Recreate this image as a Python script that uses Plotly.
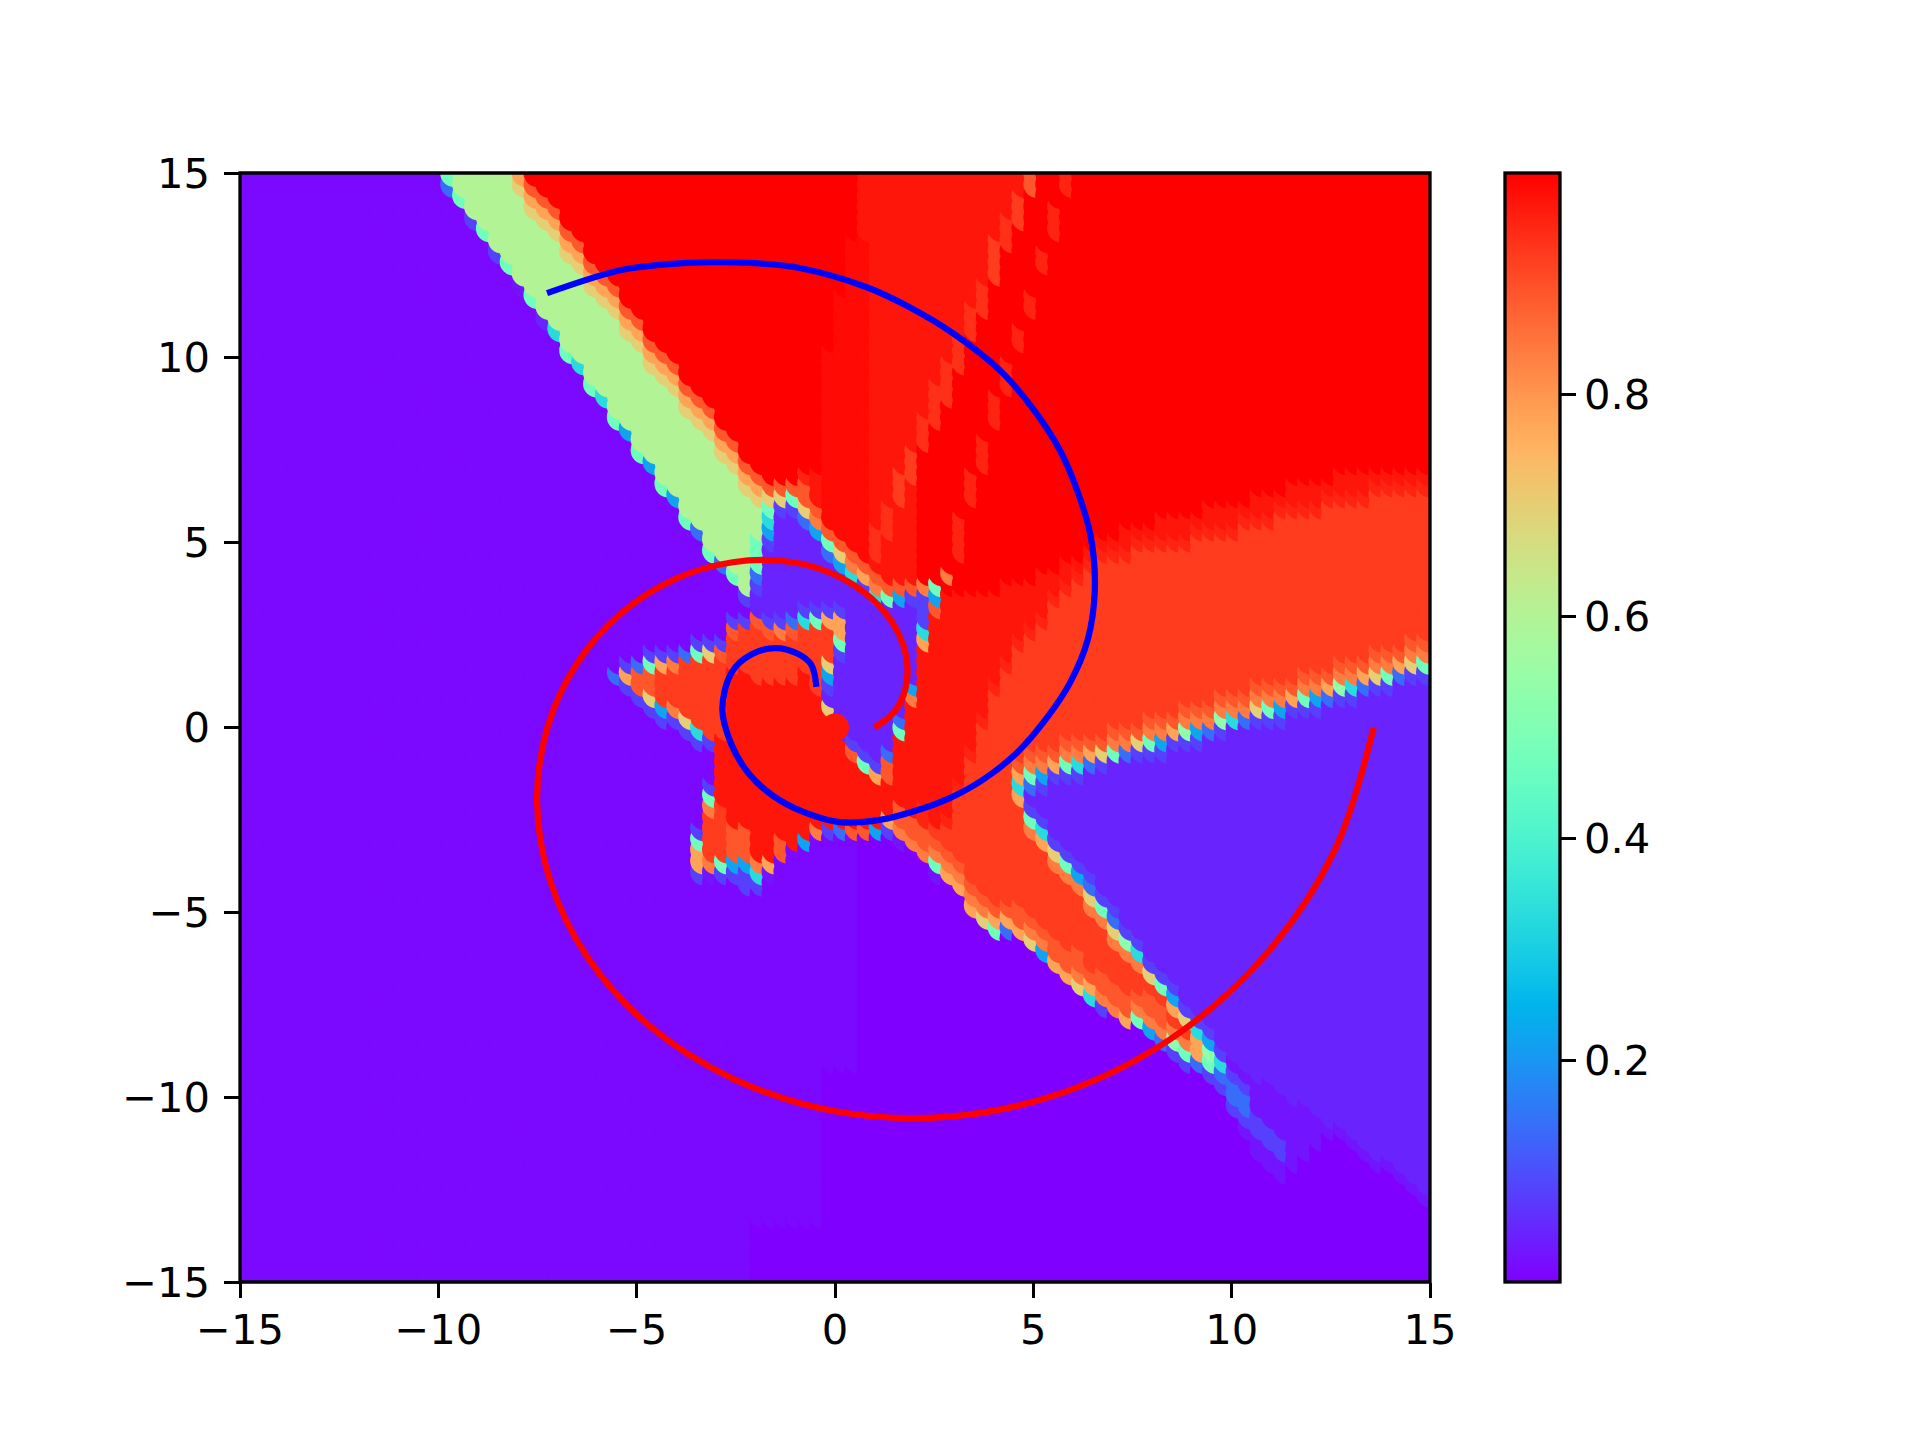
import math
import plotly.graph_objects as go

LEVELS = {"V": 0.0, "W": 0.01, "u": 0.025, "P": 0.045, "p": 0.08, "b": 0.14, "s": 0.22,
          "c": 0.33, "a": 0.47, "g": 0.53, "G": 0.6, "y": 0.7, "o": 0.78, "n": 0.84,
          "m": 0.89, "O": 0.925, "e": 0.94, "t": 0.955, "r": 0.972, "d": 0.988, "R": 1.0}

# One entry per grid column (x = -15 ... 15, step 0.3); each token = level + first row index
# (row 0 is y = -15, row 100 is y = 15); a run lasts until the next token's row.
COLUMNS = ["W0"] * 18 + [
    "W0 b99 a100",
    "W0 a98 G99",
    "W0 p96 G97",
    "W0 a95 G96",
    "W0 p93 G94",
    "W0 a92 G93",
    "W0 u90 G91 y99 o100",
    "W0 a89 G90 y97 o98 m99 R100",
    "W0 P87 G88 y96 o97 m98 R99",
    "W0 c86 G87 y95 o96 m97 R98",
    "W0 a84 G85 y93 o94 m95 R96",
    "W0 c83 G84 y92 o93 m94 R95",
    "W0 a81 G82 y90 o91 m92 R93",
    "W0 c80 G81 y89 o90 m91 R92",
    "W0 b55 W56 a78 G79 y88 o89 m90 R91",
    "W0 p54 o55 p56 W57 s77 G78 y86 o87 m88 R89",
    "W0 p53 m54 b56 W57 a75 G76 y85 o86 m87 R88",
    "W0 p52 y53 m54 a56 p57 W58 s74 G75 y83 o84 m85 R86",
    "W0 p51 s52 O53 o56 p57 W58 a72 G73 y82 o83 m84 R85",
    "W0 p51 n52 O53 n56 p57 W58 s71 G72 y81 o82 m83 R84",
    "W0 p50 y51 O52 b57 W58 a69 G70 y79 o80 m81 R82",
    "W0 p37 o38 a40 p41 W42 p49 c50 O51 a57 p58 W59 b68 G69 y78 o79 m80 R81",
    "W0 u37 n38 O39 n43 a44 p45 W46 p49 O50 y57 p58 W59 a66 G67 y77 o78 m79 R80",
    "W0 p37 a38 O39 r44 O50 m57 p58 W59 b65 G66 y75 o76 m77 R78",
    "W0 p37 s38 m39 r42 O56 m59 p60 W61 a64 G65 y74 o75 m76 R77",
    "W0 p36 s38 m39 r42 O56 p60 W61 p62 G63 y72 o73 m74 R75",
    "V0 W6 p36 c37 n38 r39 O55 m60 P61 p63 b64 a65 G68 y71 o72 m73 R74",
    "V0 W6 u37 o38 r39 O55 m59 p60 P61 p67 s68 c69 a70 y71 m72 R73",
    "V0 W6 m39 r41 O55 n59 p60 P61 p70 y71 m72 R73",
    "V0 W6 r40 O55 m59 b60 P61 p70 a71 m72 R73",
    "V0 W6 s40 r41 O56 c60 p61 P62 b69 y70 m71 t73 R74",
    "V0 W6 n41 r42 O54 a60 p61 P62 s68 n69 m70 r71 R74",
    "V0 W20 p41 r42 y52 P53 p54 s55 y56 O57 o60 p61 P62 b66 a67 m68 d69 R85",
    "V0 W20 b41 r42 P50 p57 a58 o59 p61 P62 s65 y66 m67 d68 R90",
    "V0 W20 m41 r42 m48 p49 P50 c64 n65 m66 d67 R95",
    "V0 m41 r42 a47 p48 P49 p63 o64 m65 d66 r95",
    "V0 s41 r42 o46 p47 P48 c62 n63 m64 r65 e66 r69",
    "V0 p41 o42 r43 m46 b48 P49 a62 m63 r64 e68 r71",
    "V0 u40 n41 m42 r44 a50 b51 P52 s62 m63 r64 O71 r74",
    "V0 n40 m41 r43 n53 s54 P55 p62 m63 r64 O73 r76",
    "V0 n39 m40 t42 r44 o58 c59 p60 n63 R64 e76 r79",
    "V0 u37 a38 n39 m40 O41 r42 m61 s62 a63 R64 e78 r82",
    "V0 o37 n38 m39 O40 t42 r43 R63 n64 R65 e80 r84",
    "V0 o36 n37 m38 O39 t45 r46 R63 t66 R70 e83 r86",
    "V0 o34 n35 m36 O37 t48 r49 R63 t71 R74 e86 r89",
    "V0 y33 n34 m35 O36 t51 r52 R63 t74 R77 e88 r91",
    "V0 a32 o33 m34 O35 t54 r55 R63 t78 R81 O91 r95",
    "V0 b32 o33 m34 O35 t56 r57 R64 t81 R84 e94 r97",
    "V0 o32 m33 O35 o44 c45 o46 m47 O48 t58 r59 R64 t85 R87 O96 r99",
    "V0 y31 n32 m33 O34 n41 a42 p43 P44 b45 a46 n47 m48 O49 t59 r60 R64 t88 R90 m99",
    "V0 s30 n31 m32 O33 o40 c41 p42 P43 p45 s46 n47 m48 O49 t60 r61 R65 t92 R94",
    "V0 o29 m30 O32 n38 y39 p40 P41 p46 o47 m48 O49 t62 r63 R65 t95 R98",
    "V0 o28 m29 O31 n37 a38 p39 P40 p46 a47 n48 m49 O50 t63 r64 R66 t99",
    "V0 y27 n28 m29 O31 n36 s37 p38 P39 p46 c47 n48 m49 O50 t64 r65 R66",
    "V0 c26 o27 m28 O29 n34 y35 b36 p37 P38 b47 o48 m49 O50 t65 r66 R67",
    "V0 p25 n26 m27 O29 n33 a34 p35 P36 p47 y48 m49 O50 t66 r67 R68",
    "V0 n25 m26 O28 n31 y32 b33 p34 P35 a48 n49 m50 O51 t66 r67 R68",
    "V0 o24 m25 O27 n30 g31 p32 P33 b48 n49 m50 O51 t66 r67 R69",
    "V0 a24 n25 m26 O27 n29 c30 p31 P32 p48 y49 m50 O51 t67 r68 R69",
    "V0 s23 n24 m25 O27 y28 p29 P30 p48 a49 n50 m51 O52 t67 r68 R69",
    "V0 b22 n23 m24 O26 a27 p28 P29 p48 s49 n50 m51 O52 t67 r68 R70",
    "V0 p21 g22 n23 O24 o25 s26 p27 P28 p49 o50 m51 O52 t67 r68 R70",
    "V0 p20 a21 n22 O23 y24 p25 P26 p49 g50 n51 m52 O53 t67 r68 R70",
    "V0 b20 o21 c23 p24 P25 p49 s50 n51 m52 O53 t68 r69 R70",
    "V0 p19 a20 g21 s22 p23 P24 b50 n51 m52 O53 t68 r69 R71",
    "V0 p18 b19 c20 p21 P22 p50 g51 n52 m53 O54 t68 r69 R71",
    "V0 p16 b17 p19 u20 P21 c51 n52 m53 O54 t68 r69 R71",
    "V0 u14 p15 b16 p18 u19 P20 b51 n52 m53 O54 t69 r70 R71",
    "V0 u12 p14 u16 P19 p51 y52 n53 m54 O55 t69 r70 R72",
    "V0 u11 p13 u15 P19 p51 a52 n53 m54 O55 t69 r70 R72",
    "V0 u10 p12 u14 P18 p51 s52 n53 m54 O55 t70 r71 R72",
    "V0 u11 P17 p52 o53 m54 O55 t70 r71 R73",
    "V0 u12 P17 p52 a53 n54 m55 O56 t70 r71 R73",
    "V0 u13 P16 p52 s53 n54 m55 O56 t70 r71 R73",
    "V0 u14 P15 b53 o54 m55 O56 t71 r72 R73",
    "V0 u14 P15 p53 g54 n55 m56 O57 t71 r72 R74",
    "V0 u13 P14 p53 c54 n55 m56 O57 t71 r72 R74",
    "V0 u12 P13 b54 o55 m56 O57 t71 r72 R74",
    "V0 u11 P12 p54 y55 n56 m57 O58 t72 r73 R74",
    "V0 u11 P12 p54 a55 n56 m57 O58 t72 r73 R74",
    "V0 u10 P11 b55 o56 m57 O58 t72 r73 R74",
    "V0 u9 P10 p55 y56 n57 m58 O59 t72 r73 R74",
    "V0 u8 P9 p55 a56 n57 m58 O59 t72 r73 R74",
]

RED_X = [13.58, 12.58, 10.79, 8.44, 5.71, 2.82, 0.0, -2.55, -4.67, -6.23, -7.18, -7.51, -7.25,
         -6.50, -5.38, -4.02, -2.58, -1.20, 0.0, 0.93, 1.54, 1.81, 1.77, 1.47, 1.0]
RED_Y = [0.0, -3.36, -6.23, -8.44, -9.89, -10.53, -10.38, -9.51, -8.08, -6.23, -4.15, -2.01, 0.0,
         1.74, 3.10, 4.02, 4.47, 4.49, 4.13, 3.48, 2.67, 1.81, 1.02, 0.39, 0.0]
BLUE_X = [-7.26, -5.42, -4.29, -3.16, -2.02, -0.89, 0.80, 1.88, 2.97, 4.15, 4.98, 5.67, 6.12, 6.45,
          6.55, 6.37, 5.92, 5.34, 4.58, 3.72, 2.89, 2.01, 1.13, 0.12, -0.83, -1.56, -2.17, -2.61,
          -2.84, -2.60, -2.10, -1.50, -0.95, -0.60, -0.47]
BLUE_Y = [11.75, 12.37, 12.53, 12.59, 12.56, 12.43, 11.91, 11.37, 10.67, 9.67, 8.64, 7.50, 6.37, 5.15,
          3.72, 2.37, 1.20, 0.26, -0.69, -1.42, -1.91, -2.26, -2.50, -2.56, -2.27, -1.85, -1.25, -0.46,
          0.50, 1.50, 1.98, 2.15, 2.00, 1.70, 1.10]
DOT_X = [0.0]
DOT_Y = [0.0]
DOT_LEVEL = ["r"]
TICKS = [-15, -10, -5, 0, 5, 10, 15]
BAR_TICKS = [0.2, 0.4, 0.6, 0.8]

N = 101
xs, ys, zs = [], [], []
for i, col in enumerate(COLUMNS):
    tokens = [(t[0], int(t[1:])) for t in col.split()]
    for k, (lv, start) in enumerate(tokens):
        end = tokens[k + 1][1] if k + 1 < len(tokens) else N
        for j in range(start, min(end, N)):
            xs.append(-15 + 0.3 * i)
            ys.append(-15 + 0.3 * j)
            zs.append(LEVELS[lv])

stops = []
for k in range(41):
    v = k / 40
    stops.append([v, "rgb(%d,%d,%d)" % (round(255 * abs(2 * v - 0.5)),
                                        round(255 * math.sin(math.pi * v)),
                                        round(255 * math.cos(math.pi * v / 2)))])

L, R, T, B = 240.0, 1430.5, 172.8, 1282.3
FONT = dict(family="DejaVu Sans", size=41.67, color="black")
fig = go.Figure()
fig.add_trace(go.Scatter(
    x=xs, y=ys, mode="markers", showlegend=False, hoverinfo="skip",
    marker=dict(size=28, symbol="circle", color=zs, colorscale=stops, cmin=0, cmax=1,
                line=dict(width=0), showscale=True,
                colorbar=dict(x=(1505.7 - L) / (R - L), xanchor="left", xpad=0, y=0.5, yanchor="middle",
                              len=1, lenmode="fraction", thickness=55, thicknessmode="pixels",
                              ypad=0, outlinewidth=3.3, outlinecolor="black",
                              tickmode="array", tickvals=BAR_TICKS, ticktext=["0.2", "0.4", "0.6", "0.8"],
                              ticks="outside", ticklen=14.6, tickwidth=3.3, tickcolor="black",
                              tickfont=FONT))))
fig.add_trace(go.Scatter(x=DOT_X, y=DOT_Y, mode="markers", showlegend=False, hoverinfo="skip",
                         marker=dict(size=28, color=[LEVELS[l] for l in DOT_LEVEL], colorscale=stops,
                                     cmin=0, cmax=1, line=dict(width=0), showscale=False)))
fig.add_trace(go.Scatter(x=RED_X, y=RED_Y, mode="lines", showlegend=False, hoverinfo="skip",
                         line=dict(color="#ff0000", width=6.25, shape="spline", smoothing=1.0)))
fig.add_trace(go.Scatter(x=BLUE_X, y=BLUE_Y, mode="lines", showlegend=False, hoverinfo="skip",
                         line=dict(color="#0000ff", width=6.25, shape="spline", smoothing=1.0)))

axis = dict(range=[-15, 15], tickmode="array", tickvals=TICKS, ticks="outside", ticklen=14.6,
            tickwidth=3.3, tickcolor="black", showline=False,
            showgrid=False, zeroline=False, tickfont=FONT)
fig.update_xaxes(ticklabelstandoff=-4, **axis)
fig.update_yaxes(ticklabelstandoff=6, **axis)
fig.add_shape(type="rect", xref="paper", yref="paper", x0=0, x1=1, y0=0, y1=1,
              line=dict(color="black", width=3.3), fillcolor="rgba(0,0,0,0)", layer="above")
fig.update_layout(width=1920, height=1440, autosize=False, paper_bgcolor="white", plot_bgcolor="white",
                  margin=dict(l=L, r=1920 - R, t=T, b=1440 - B, pad=0), showlegend=False)
fig.write_html("out.html", config={"displayModeBar": False},
               post_script="document.body.style.margin='0';")
